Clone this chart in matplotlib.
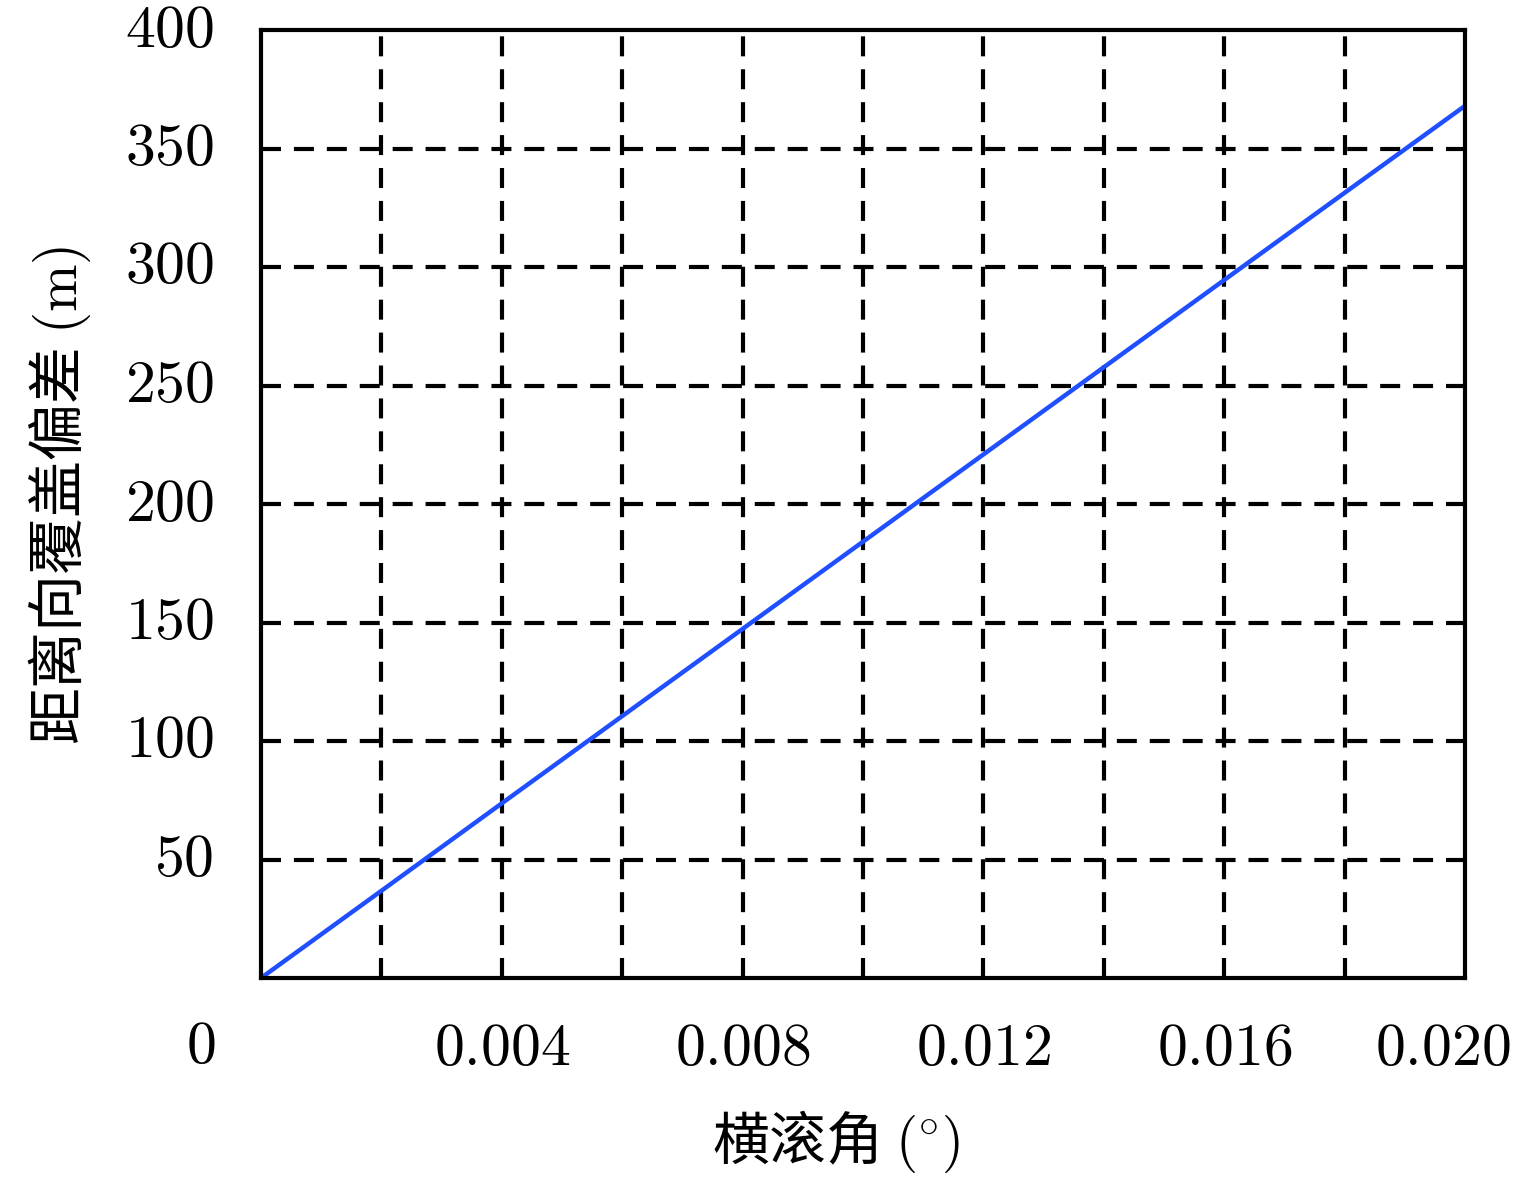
import numpy as np
import matplotlib
matplotlib.use('Agg')
import matplotlib.pyplot as plt
import matplotlib.transforms as mtransforms

# 数据
roll_angle = [0.0, 0.002, 0.004, 0.006, 0.008, 0.010, 0.012, 0.014, 0.016, 0.018, 0.020]
range_offset = [0.0, 36.8, 73.7, 110.5, 147.3, 184.1, 220.9, 257.7, 294.5, 331.3, 368.0]

x_ticks = [0.004, 0.008, 0.012, 0.016, 0.020]
x_tick_labels = ['0.004', '0.008', '0.012', '0.016', '0.020']
y_ticks = [50, 100, 150, 200, 250, 300, 350, 400]
x_grid = [0.002, 0.004, 0.006, 0.008, 0.010, 0.012, 0.014, 0.016, 0.018]
y_grid = [50, 100, 150, 200, 250, 300, 350]

plt.rcParams['mathtext.fontset'] = 'cm'
plt.rcParams['font.family'] = ['Noto Sans CJK SC', 'DejaVu Sans']

fig = plt.figure(figsize=(15.35, 11.81), dpi=100)
ax = fig.add_axes([261 / 1535, 1 - 978 / 1181, (1465 - 261) / 1535, (978 - 30) / 1181])

# 网格线
for gx in x_grid:
    ax.axvline(gx, color='black', lw=3.0, dashes=(4.8, 3.1), zorder=1)
for gy in y_grid:
    ax.axhline(gy, color='black', lw=3.0, dashes=(4.8, 3.1), zorder=1)

ax.plot(roll_angle, range_offset, color='#1f4fff', lw=3.2, zorder=3)

ax.set_xlim(0, 0.020)
ax.set_ylim(0, 400)

ax.set_xticks(x_ticks)
ax.set_xticklabels(['$' + s + '$' for s in x_tick_labels])
ax.set_yticks(y_ticks)
ax.set_yticklabels(['$%d$' % v for v in y_ticks])
ax.tick_params(length=0, labelsize=43)
ax.tick_params(axis='y', pad=34)
ax.tick_params(axis='x', pad=29)
for lab in ax.get_yticklabels():
    lab.set_verticalalignment('center')

# 最右边的标签往左挪一点
last = ax.get_xticklabels()[-1]
last.set_transform(last.get_transform() + mtransforms.ScaledTranslation(-22 / 100, 0, fig.dpi_scale_trans))

for spine in ax.spines.values():
    spine.set_linewidth(3.0)
    spine.set_color('black')
    spine.set_zorder(4)

# 原点标签
fig.text(201 / 1535, 1 - 1047 / 1181, '$0$', fontsize=43, ha='center', va='center')

fig.text(836 / 1535, 1 - 1142 / 1181, '横滚角 $(\\!^\\circ\\!)$', fontsize=41, ha='center', va='center')
fig.text(60 / 1535, 1 - 495 / 1181, '距离向覆盖偏差 $(\\mathrm{m})$', fontsize=41,
         ha='center', va='center', rotation=90)

plt.savefig('out.png', dpi=100)
